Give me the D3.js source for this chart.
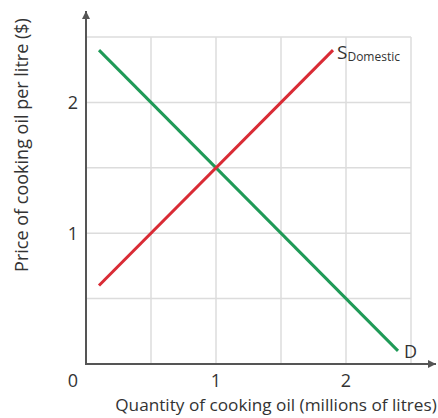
<!DOCTYPE html>
<html>
<head>
<meta charset="utf-8">
<script src="https://cdn.jsdelivr.net/npm/d3@7/dist/d3.min.js"></script>
<style>
  html, body { margin: 0; padding: 0; background: #fff; }
  svg text { font-family: "Open Sans", "Noto Sans", sans-serif; fill: #333; }
</style>
</head>
<body>
<svg id="chart" width="438" height="418"></svg>
<script>
// Quantity (millions of litres) and price ($ per litre)
const xTicks = [1, 2];
const yTicks = [1, 2];
const gridValues = [0.5, 1, 1.5, 2, 2.5];

const demandQty = [0.1, 2.4];
const demandPrice = [2.4, 0.1];
const supplyQty = [0.1, 1.9];
const supplyPrice = [0.6, 2.4];

const curves = [
  { name: "D", qty: demandQty, price: demandPrice, color: "#1f9a57" },
  { name: "S", qty: supplyQty, price: supplyPrice, color: "#d92b35" }
];

const svg = d3.select("#chart");
const x = d3.scaleLinear().domain([0, 2.5]).range([86, 411]);
const y = d3.scaleLinear().domain([0, 2.5]).range([364, 37]);

// grid
const grid = svg.append("g").attr("stroke", "#dcdcdc").attr("stroke-width", 1.5);
grid.selectAll("line.v").data(gridValues).join("line")
  .attr("x1", d => x(d)).attr("x2", d => x(d))
  .attr("y1", y(0)).attr("y2", y(2.5));
grid.selectAll("line.h").data(gridValues).join("line")
  .attr("y1", d => y(d)).attr("y2", d => y(d))
  .attr("x1", x(0)).attr("x2", x(2.5));

// axes with arrowheads
const axisColor = "#555";
svg.append("defs").append("marker")
  .attr("id", "arrow").attr("viewBox", "0 0 10 10")
  .attr("refX", 10).attr("refY", 5)
  .attr("markerWidth", 5).attr("markerHeight", 4)
  .attr("markerUnits", "strokeWidth")
  .attr("orient", "auto")
  .append("path").attr("d", "M0,0 L10,5 L0,10 z").attr("fill", axisColor);

svg.append("line")
  .attr("x1", x(0)).attr("x2", x(0))
  .attr("y1", y(0) + 1).attr("y2", 11)
  .attr("stroke", axisColor).attr("stroke-width", 2)
  .attr("marker-end", "url(#arrow)");
svg.append("line")
  .attr("x1", x(0) - 1).attr("x2", 436)
  .attr("y1", y(0)).attr("y2", y(0))
  .attr("stroke", axisColor).attr("stroke-width", 2)
  .attr("marker-end", "url(#arrow)");

// tick labels
svg.selectAll("text.xt").data(xTicks).join("text")
  .attr("x", d => x(d)).attr("y", 387)
  .attr("text-anchor", "middle").attr("font-size", 18)
  .text(d => d);
svg.selectAll("text.yt").data(yTicks).join("text")
  .attr("x", 73).attr("y", d => y(d) + 6.5)
  .attr("text-anchor", "middle").attr("font-size", 18)
  .text(d => d);
svg.append("text")
  .attr("x", 73).attr("y", 387)
  .attr("text-anchor", "middle").attr("font-size", 18)
  .text("0");

// axis titles
svg.append("text")
  .attr("x", 276).attr("y", 411)
  .attr("text-anchor", "middle").attr("font-size", 17.2)
  .text("Quantity of cooking oil (millions of litres)");
svg.append("text")
  .attr("transform", "translate(28,145) rotate(-90)")
  .attr("text-anchor", "middle").attr("font-size", 18)
  .text("Price of cooking oil per litre ($)");

// curves
const line = d3.line().x(d => x(d[0])).y(d => y(d[1]));
svg.selectAll("path.curve").data(curves).join("path")
  .attr("d", c => line(d3.zip(c.qty, c.price)))
  .attr("fill", "none")
  .attr("stroke", c => c.color)
  .attr("stroke-width", 3);

// curve labels
svg.append("text")
  .attr("x", x(demandQty[1]) + 6).attr("y", y(demandPrice[1]) + 7)
  .attr("font-size", 18)
  .text("D");
const sLabel = svg.append("text")
  .attr("x", x(supplyQty[1]) + 4).attr("y", y(supplyPrice[1]) + 9)
  .attr("font-size", 19);
sLabel.append("tspan").text("S");
sLabel.append("tspan").attr("font-size", 12).attr("dy", 2).text("Domestic");
</script>
</body>
</html>
